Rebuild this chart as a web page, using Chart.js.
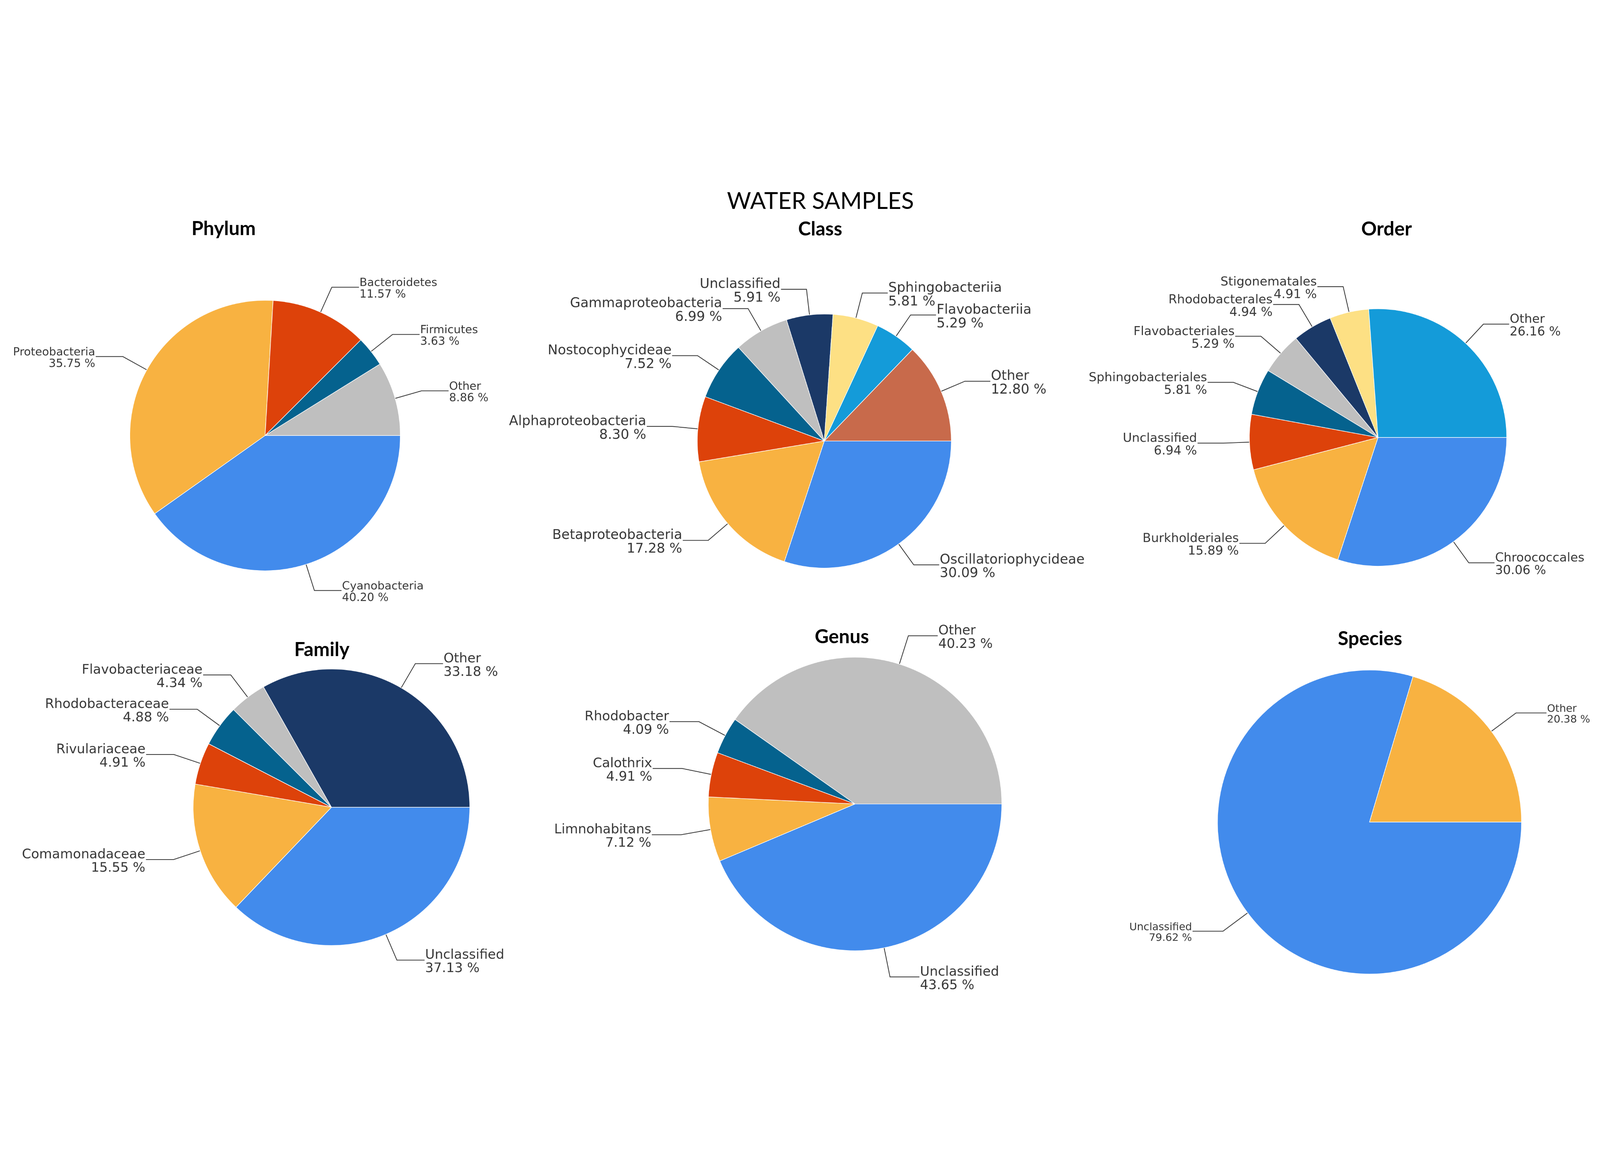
<!DOCTYPE html>
<html lang="en">
<head>
    <meta charset="UTF-8">
    <title>Water samples - taxonomy pies</title>
    <script src="https://cdn.jsdelivr.net/npm/chart.js"></script>
    <style>
        html, body { margin: 0; padding: 0; background: #fff; overflow: hidden; width: 100%; height: 100%; }
        #page { position: absolute; left: 0; top: 0; width: 5831px; height: 3001px; overflow: hidden; background: #fff; transform-origin: 0 0; }
        #page canvas { position: absolute; }
        .title { position: absolute; white-space: nowrap; line-height: 1; color: #000; font-family: Lato, "Open Sans", sans-serif; transform: translateX(-50%); }
        .main-title { font-weight: 400; }
        .panel-title { font-weight: 700; }
    </style>
</head>
<body>
    <div id="page"></div>

    <script>
        // Datos (porcentajes)
        const phylumLabels = ['Cyanobacteria', 'Proteobacteria', 'Bacteroidetes', 'Firmicutes', 'Other'];
        const phylumValues = [40.20, 35.75, 11.57, 3.63, 8.86];

        const classLabels = ['Oscillatoriophycideae', 'Betaproteobacteria', 'Alphaproteobacteria', 'Nostocophycideae',
            'Gammaproteobacteria', 'Unclassified', 'Sphingobacteriia', 'Flavobacteriia', 'Other'];
        const classValues = [30.09, 17.28, 8.30, 7.52, 6.99, 5.91, 5.81, 5.29, 12.80];

        const orderLabels = ['Chroococcales', 'Burkholderiales', 'Unclassified', 'Sphingobacteriales',
            'Flavobacteriales', 'Rhodobacterales', 'Stigonematales', 'Other'];
        const orderValues = [30.06, 15.89, 6.94, 5.81, 5.29, 4.94, 4.91, 26.16];

        const familyLabels = ['Unclassified', 'Comamonadaceae', 'Rivulariaceae', 'Rhodobacteraceae', 'Flavobacteriaceae', 'Other'];
        const familyValues = [37.13, 15.55, 4.91, 4.88, 4.34, 33.18];

        const genusLabels = ['Unclassified', 'Limnohabitans', 'Calothrix', 'Rhodobacter', 'Other'];
        const genusValues = [43.65, 7.12, 4.91, 4.09, 40.23];

        const speciesLabels = ['Unclassified', 'Other'];
        const speciesValues = [79.62, 20.38];

        // Colores
        const BLUE = '#428bec', ORANGE = '#f8b241', RED = '#dd420a', TEAL = '#05628e',
              GRAY = '#bfbfbf', NAVY = '#1b3967', YELLOW = '#fde084', SKY = '#149bd9', BRICK = '#c86a4b';

        // Etiquetas con linea guia (codo a 1.2r, tramo horizontal de 0.2r)
        const leaderLabels = {
            id: 'leaderLabels',
            afterDatasetsDraw(chart, args, opts) {
                const ctx = chart.ctx;
                const meta = chart.getDatasetMeta(0);
                const values = chart.data.datasets[0].data;
                const fs = opts.fontSize;
                ctx.save();
                ctx.strokeStyle = '#333';
                ctx.lineWidth = 2.8;
                ctx.fillStyle = '#383838';
                ctx.font = fs + 'px "DejaVu Sans"';
                ctx.textBaseline = 'alphabetic';
                meta.data.forEach((arc, i) => {
                    const p = arc.getProps(['x', 'y', 'startAngle', 'endAngle', 'outerRadius'], true);
                    const mid = (p.startAngle + p.endAngle) / 2;
                    const c = Math.cos(mid), s = Math.sin(mid);
                    const r = p.outerRadius + 1;
                    const ex = p.x + c * r * 1.2, ey = p.y + s * r * 1.2;
                    const dir = c >= 0 ? 1 : -1;
                    const hx = ex + dir * r * 0.2;
                    ctx.beginPath();
                    ctx.moveTo(p.x + c * r, p.y + s * r);
                    ctx.lineTo(ex, ey);
                    ctx.lineTo(hx, ey);
                    ctx.stroke();
                    ctx.textAlign = dir > 0 ? 'left' : 'right';
                    const tx = hx + dir * 2;
                    ctx.fillText(chart.data.labels[i], tx, ey - 0.1 * fs);
                    ctx.fillText(values[i].toFixed(2) + ' %', tx, ey + 0.92 * fs);
                });
                ctx.restore();
            }
        };

        const page = document.getElementById('page');

        // la ventana real puede ser menor que 5831x3001: escalar para que quepa todo
        function fitPage() {
            const W = 5831, H = 3001;
            const s = Math.min(1, window.innerWidth / W, window.innerHeight / H);
            const offX = (window.innerWidth - W * s) / 2;
            const offY = Math.max(0, (window.innerHeight - H * s) / 2);
            page.style.transform = 'translate(' + offX + 'px,' + offY + 'px) scale(' + s + ')';
        }
        fitPage();
        window.addEventListener('resize', fitPage);

        function addTitle(text, x, baseline, size, cls) {
            const d = document.createElement('div');
            d.className = 'title ' + cls;
            d.textContent = text;
            d.style.fontSize = size + 'px';
            d.style.left = x + 'px';
            d.style.top = (baseline - 0.887 * size) + 'px';
            page.appendChild(d);
        }

        // cuadro del canvas, centro y radio de cada pastel
        function makePie(box, cx, cy, r, labels, values, colors, fontSize) {
            const canvas = document.createElement('canvas');
            canvas.width = box[2];
            canvas.height = box[3];
            canvas.style.left = box[0] + 'px';
            canvas.style.top = box[1] + 'px';
            canvas.style.width = box[2] + 'px';
            canvas.style.height = box[3] + 'px';
            page.appendChild(canvas);

            const padding = {
                left: cx - r - box[0],
                top: cy - r - box[1],
                right: box[0] + box[2] - (cx + r),
                bottom: box[1] + box[3] - (cy + r)
            };

            return new Chart(canvas, {
                type: 'pie',
                data: {
                    labels: labels,
                    datasets: [{
                        data: values,
                        backgroundColor: colors,
                        borderColor: '#ffffff',
                        borderWidth: 2
                    }]
                },
                options: {
                    responsive: false,
                    devicePixelRatio: 1,
                    animation: false,
                    rotation: 90,
                    layout: { padding: padding },
                    plugins: {
                        legend: { display: false },
                        tooltip: { enabled: false },
                        leaderLabels: { fontSize: fontSize }
                    }
                },
                plugins: [leaderLabels]
            });
        }

        addTitle('WATER SAMPLES', 2990, 126, 85, 'main-title');
        addTitle('Phylum', 815, 222, 70, 'panel-title');
        addTitle('Class', 2989, 223, 70, 'panel-title');
        addTitle('Order', 5053, 223, 70, 'panel-title');
        addTitle('Family', 1173, 1756, 70, 'panel-title');
        addTitle('Genus', 3068, 1709, 70, 'panel-title');
        addTitle('Species', 4993, 1716, 70, 'panel-title');

        makePie([0, 0, 1950, 1600], 966, 952, 494, phylumLabels, phylumValues,
            [BLUE, ORANGE, RED, TEAL, GRAY], 41);
        makePie([1850, 0, 2150, 1600], 3004, 972, 464, classLabels, classValues,
            [BLUE, ORANGE, RED, TEAL, GRAY, NAVY, YELLOW, SKY, BRICK], 49);
        makePie([3900, 0, 1931, 1600], 5022, 959, 470, orderLabels, orderValues,
            [BLUE, ORANGE, RED, TEAL, GRAY, NAVY, YELLOW, SKY], 45);
        makePie([0, 1500, 1950, 1501], 1208, 2307, 505, familyLabels, familyValues,
            [BLUE, ORANGE, RED, TEAL, GRAY, NAVY], 48);
        makePie([1900, 1500, 2000, 1501], 3116, 2295, 536, genusLabels, genusValues,
            [BLUE, ORANGE, RED, TEAL, GRAY], 48);
        makePie([3900, 1500, 1931, 1501], 4991, 2361, 555, speciesLabels, speciesValues,
            [BLUE, ORANGE], 38);
    </script>
</body>
</html>
